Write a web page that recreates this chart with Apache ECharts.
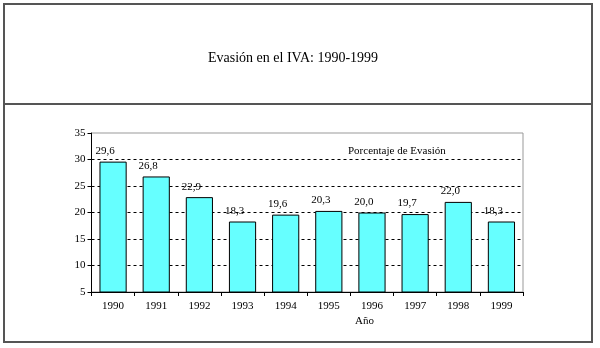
<!DOCTYPE html>
<html>
<head>
<meta charset="utf-8">
<script src="https://cdn.jsdelivr.net/npm/echarts@6/dist/echarts.min.js"></script>
<style>
html,body{margin:0;padding:0;background:#fff;}
#c{width:600px;height:348px;}
</style>
</head>
<body>
<div id="c"></div>
<script>
var categories = ['1990','1991','1992','1993','1994','1995','1996','1997','1998','1999'];
var evasion = [29.6, 26.8, 22.9, 18.3, 19.6, 20.3, 20.0, 19.7, 22.0, 18.3];
var titleText = 'Evasión en el IVA: 1990-1999';
var seriesName = 'Porcentaje de Evasión';
var xAxisName = 'Año';

var serif = '"Liberation Serif", "DejaVu Serif", serif';
var chart = echarts.init(document.getElementById('c'), null, {renderer: 'canvas'});
chart.setOption({
  backgroundColor: '#fff',
  animation: false,
  title: {
    text: titleText,
    left: 203,
    top: 46,
    textStyle: {fontFamily: serif, fontSize: 14, fontWeight: 'normal', color: '#000'}
  },
  graphic: [
    {type: 'rect', shape: {x: 4, y: 4, width: 588, height: 338},
     style: {fill: 'none', stroke: '#555', lineWidth: 2}, z: 100},
    {type: 'line', shape: {x1: 4, y1: 104, x2: 592, y2: 104},
     style: {stroke: '#555', lineWidth: 2}, z: 100},
    {type: 'text', left: 348, top: 146, z: 100,
     style: {text: seriesName, font: '11px ' + serif, fill: '#000'}},
    {type: 'text', left: 355, top: 316, z: 100,
     style: {text: xAxisName, font: '11px ' + serif, fill: '#000'}}
  ],
  grid: {
    left: 91.5, right: 77, top: 133, bottom: 56,
    show: true, borderColor: '#999', borderWidth: 1, backgroundColor: 'transparent'
  },
  xAxis: {
    type: 'category',
    data: categories,
    boundaryGap: true,
    axisLine: {lineStyle: {color: '#000', width: 1}},
    axisTick: {show: true, alignWithLabel: false, length: 4, inside: false, lineStyle: {color: '#000'}},
    axisLabel: {fontFamily: serif, fontSize: 11, color: '#000', margin: 9}
  },
  yAxis: {
    type: 'value',
    min: 5, max: 35, interval: 5,
    axisLine: {show: true, lineStyle: {color: '#000', width: 1}},
    axisTick: {show: true, length: 4, lineStyle: {color: '#000'}},
    axisLabel: {fontFamily: serif, fontSize: 11, color: '#000', margin: 6},
    splitLine: {show: true, showMinLine: false, showMaxLine: false,
      lineStyle: {color: '#000', type: [3, 3], width: 1}}
  },
  series: [{
    type: 'bar',
    name: seriesName,
    data: evasion,
    barWidth: '63%',
    itemStyle: {color: '#66FFFF', borderColor: '#000', borderWidth: 1},
    label: {
      show: true,
      position: 'top',
      distance: 5,
      offset: [-8, 0],
      fontFamily: serif, fontSize: 11, color: '#000',
      formatter: function (p) { return p.value.toFixed(1).replace('.', ','); }
    }
  }]
});
</script>
</body>
</html>
